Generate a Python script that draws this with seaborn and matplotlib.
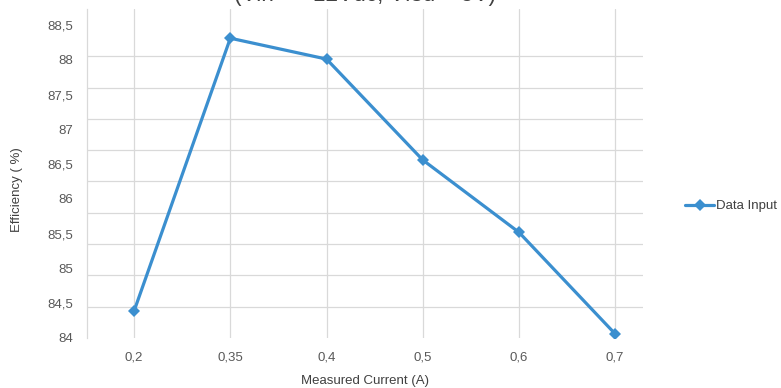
import numpy as np
import pandas as pd
import matplotlib
matplotlib.use("Agg")
import matplotlib.pyplot as plt
import seaborn as sns
from matplotlib.ticker import FixedLocator, FixedFormatter

currents = ["0,2", "0,35", "0,4", "0,5", "0,6", "0,7"]
efficiency = [84.39, 88.31, 88.01, 86.56, 85.52, 84.06]
y_tick_values = [84, 84.5, 85, 85.5, 86, 86.5, 87, 87.5, 88, 88.5]
y_tick_labels = ["84", "84,5", "85", "85,5", "86", "86,5", "87", "87,5", "88", "88,5"]
series_name = "Data Input"
title_text = "Efficiency Vs Measured Current\n(Vin = +12Vdc, Vfsd = 5V)"
x_label = "Measured Current (A)"
y_label = "Efficiency ( %)"

sns.set_theme(style="white")
plt.rcParams["font.family"] = ["Liberation Sans", "DejaVu Sans"]

df = pd.DataFrame({"current": currents, "eff": efficiency})

fig = plt.figure(figsize=(7.81, 3.88), dpi=100)
W, H = 781, 388
left, right, top, bottom = 87, 643, 9, 338
ax = fig.add_axes([left / W, 1 - bottom / H, (right - left) / W, (bottom - top) / H])

line_color = "#3b8fcf"
sns.lineplot(data=df, x="current", y="eff", sort=False, ax=ax, color=line_color,
             linewidth=2.3, marker="D", markersize=6.5, markeredgewidth=0,
             label=series_name)

grid_col = "#d9d9d9"
ax.set_xlim(-0.49, 5.29)
ax.set_ylim(84, 88.73)

# y labels
ax.yaxis.set_major_locator(FixedLocator(y_tick_values))
ax.yaxis.set_major_formatter(FixedFormatter(y_tick_labels))
ax.yaxis.set_minor_locator(FixedLocator(list(np.linspace(84, 88.5, 11))))
ax.tick_params(axis="y", which="both", length=0, pad=10, labelsize=9.5, labelcolor="#595959")
ax.grid(False)
ax.grid(True, axis="y", which="minor", color=grid_col, linewidth=0.9)
ax.grid(True, axis="x", which="major", color=grid_col, linewidth=0.9)
ax.tick_params(axis="x", which="major", length=4, width=0.9, color=grid_col,
               direction="out", pad=6, labelsize=9.5, labelcolor="#595959")
ax.tick_params(axis="x", which="minor", length=0)

for s in ["top", "right", "bottom"]:
    ax.spines[s].set_visible(False)
ax.spines["left"].set_color(grid_col)
ax.spines["left"].set_linewidth(0.9)

ax.set_xlabel(x_label, fontsize=9.5, color="#404040", labelpad=8)
ax.set_ylabel(y_label, fontsize=9.5, color="#404040")
ax.yaxis.set_label_coords((23 - left) / (right - left), (bottom - 190) / (bottom - top))

fig.text((left + right) / 2 / W, 1 - 1.5 / H, title_text, ha="center", va="baseline",
         fontsize=16.3, color="#404040", linespacing=1.2)

leg = ax.legend(loc="center left", bbox_to_anchor=(680 / W, 1 - 206 / H),
                bbox_transform=fig.transFigure, frameon=False, fontsize=9.5,
                handlelength=2.2, handletextpad=0.1, borderaxespad=0)
for t in leg.get_texts():
    t.set_color("#404040")

fig.savefig("out.png", dpi=100)
